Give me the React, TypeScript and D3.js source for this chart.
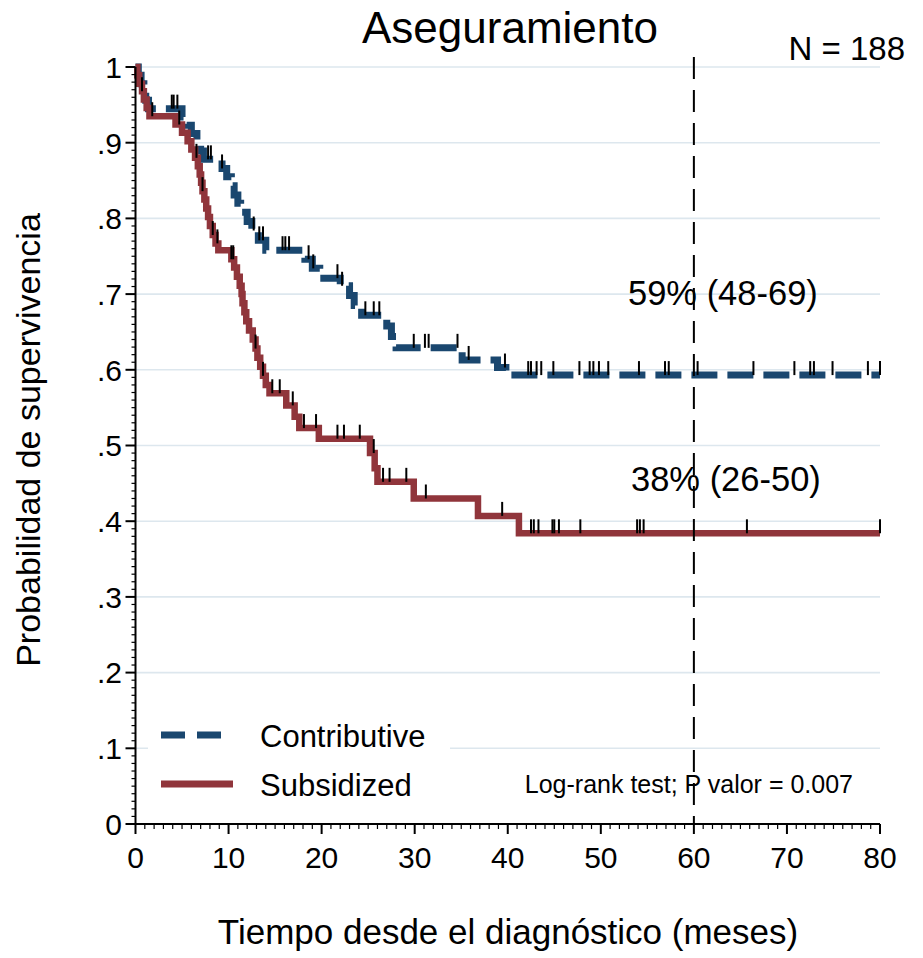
import * as d3 from 'd3'

// Kaplan-Meier steps (time in months, survival after the drop)
const contribTimes = [0, 0.3, 0.6, 0.9, 1.1, 1.4, 5.0, 5.5, 6.0, 6.6, 7.0, 7.3, 9.3, 9.8, 10.3, 10.6, 11.0, 11.3, 12.0, 12.5, 13.2, 14.0, 18.2, 19.0, 19.8, 22.0, 23.0, 23.5, 24.3, 27.0, 27.5, 28.0, 35.1, 38.9, 39.8]
const contribSurv = [1, 0.989, 0.978, 0.967, 0.956, 0.945, 0.934, 0.923, 0.912, 0.901, 0.889, 0.878, 0.866, 0.855, 0.843, 0.831, 0.82, 0.808, 0.796, 0.784, 0.771, 0.758, 0.746, 0.734, 0.721, 0.711, 0.698, 0.685, 0.672, 0.658, 0.644, 0.629, 0.613, 0.603, 0.593]
const contribCensor = [3.9, 4.1, 4.5, 7.8, 8.1, 9.3, 12.7, 13.3, 13.7, 15.8, 16.1, 16.5, 18.6, 19.1, 21.7, 22.2, 24.7, 25.6, 26.2, 29.9, 31.1, 31.5, 34.6, 35.8, 39.7, 42.2, 42.5, 43.1, 43.6, 44.9, 47.7, 48.8, 49.2, 49.8, 50.8, 54.1, 56.9, 57.3, 60.4, 66.4, 70.8, 72.5, 72.9, 74.9, 78.7, 80]

const subsTimes = [0, 0.2, 0.4, 0.7, 0.9, 1.2, 1.5, 4.3, 5.0, 5.6, 6.0, 6.4, 6.7, 6.9, 7.05, 7.2, 7.4, 7.6, 7.8, 8.0, 8.3, 8.6, 8.9, 10.3, 10.6, 10.9, 11.2, 11.4, 11.5, 11.7, 11.9, 12.2, 12.6, 12.9, 13.1, 13.4, 13.7, 14.0, 14.4, 16.2, 17.1, 17.6, 19.7, 25.2, 25.7, 26.0, 29.9, 36.8, 41.2]
const subsSurv = [1, 0.989, 0.978, 0.968, 0.957, 0.946, 0.935, 0.924, 0.913, 0.902, 0.891, 0.88, 0.869, 0.858, 0.847, 0.836, 0.825, 0.813, 0.802, 0.79, 0.778, 0.767, 0.758, 0.746, 0.735, 0.723, 0.711, 0.7, 0.688, 0.676, 0.664, 0.652, 0.64, 0.628, 0.616, 0.604, 0.592, 0.58, 0.569, 0.553, 0.538, 0.523, 0.509, 0.49, 0.47, 0.452, 0.43, 0.407, 0.384]
const subsCensor = [0.7, 1.8, 4.7, 6.55, 7.2, 8.3, 8.8, 10.3, 10.5, 12.9, 13.7, 14.7, 15.5, 16.9, 18.1, 19.4, 21.7, 22.4, 24.1, 25.6, 26.6, 27.3, 29.1, 31.2, 39.4, 42.5, 42.8, 43.3, 44.8, 45.0, 45.5, 47.8, 53.9, 54.2, 54.6, 65.7, 80]

const xTicks = [0, 10, 20, 30, 40, 50, 60, 70, 80]
const yTicks = [0, 0.1, 0.2, 0.3, 0.4, 0.5, 0.6, 0.7, 0.8, 0.9, 1]
const yTickLabels = ['0', '.1', '.2', '.3', '.4', '.5', '.6', '.7', '.8', '.9', '1']

const BLUE = '#1a476f'
const RED = '#90353b'
const GRID = '#dde7ee'
const FONT = '"Liberation Sans", Arial, Helvetica, sans-serif'

const W = 923
const H = 958

export default function App() {
  const x = d3.scaleLinear().domain([0, 80]).range([135.5, 880])
  const y = d3.scaleLinear().domain([0, 1]).range([824, 67])

  const stepLine = d3.line<[number, number]>()
    .x(d => x(d[0]))
    .y(d => y(d[1]))
    .curve(d3.curveStepAfter)

  const toPts = (ts: number[], ss: number[]): [number, number][] => {
    const pts = ts.map((t, i) => [t, ss[i]] as [number, number])
    pts.push([80, ss[ss.length - 1]])
    return pts
  }
  const survAt = (ts: number[], ss: number[], t: number) => {
    let s = ss[0]
    for (let i = 0; i < ts.length; i++) if (ts[i] <= t) s = ss[i]
    return s
  }

  const minorX = d3.range(0, 81, 1).filter(v => v % 10 !== 0)
  const minorY = d3.range(0, 101, 1).filter(v => v % 10 !== 0).map(v => v / 100)

  return (
    <svg width={W} height={H} style={{ position: 'absolute', left: 0, top: 0, background: '#fff' }} fontFamily={FONT}>
      <rect width={W} height={H} fill="#fff" />
      {/* gridlines */}
      {yTicks.filter(v => v > 0).map(v => (
        <line key={'g' + v} x1={x(0)} x2={x(80)} y1={y(v)} y2={y(v)} stroke={GRID} strokeWidth={1.6} />
      ))}

      {/* curves */}
      <path d={stepLine(toPts(contribTimes, contribSurv)) || ''} fill="none" stroke={BLUE} strokeWidth={7} strokeDasharray="26 10" />
      <path d={stepLine(toPts(subsTimes, subsSurv)) || ''} fill="none" stroke={RED} strokeWidth={6.5} />

      {/* censoring marks */}
      {contribCensor.map((t, i) => {
        const yy = y(survAt(contribTimes, contribSurv, t))
        return <line key={'cc' + i} x1={x(t)} x2={x(t)} y1={yy} y2={yy - 14} stroke="#000" strokeWidth={2} />
      })}
      {subsCensor.map((t, i) => {
        const yy = y(survAt(subsTimes, subsSurv, t))
        return <line key={'sc' + i} x1={x(t)} x2={x(t)} y1={yy} y2={yy - 14} stroke="#000" strokeWidth={2} />
      })}

      {/* 60 month reference */}
      <line x1={x(60)} x2={x(60)} y1={57} y2={y(0)} stroke="#000" strokeWidth={2} strokeDasharray="22 11" />

      {/* legend */}
      <rect x={148} y={706} width={302} height={108} fill="#fff" />
      <line x1={161} x2={221} y1={735} y2={735} stroke={BLUE} strokeWidth={7} strokeDasharray="24 12" />
      <line x1={161} x2={233} y1={784} y2={784} stroke={RED} strokeWidth={7} />
      <text x={260} y={747} fontSize={31}>Contributive</text>
      <text x={260} y={796} fontSize={31}>Subsidized</text>

      {/* axes */}
      <line x1={x(0)} x2={x(0)} y1={y(1)} y2={y(0)} stroke="#000" strokeWidth={2} />
      <line x1={x(0)} x2={x(80)} y1={y(0)} y2={y(0)} stroke="#000" strokeWidth={2} />
      {yTicks.map((v, i) => (
        <g key={'yt' + v}>
          <line x1={x(0) - 10} x2={x(0)} y1={y(v)} y2={y(v)} stroke="#000" strokeWidth={2} />
          <text x={122} y={y(v)} dy="0.36em" textAnchor="end" fontSize={30}>{yTickLabels[i]}</text>
        </g>
      ))}
      {minorY.map(v => (
        <line key={'my' + v} x1={x(0) - 4} x2={x(0)} y1={y(v)} y2={y(v)} stroke="#000" strokeWidth={1.2} />
      ))}
      {xTicks.map(v => (
        <g key={'xt' + v}>
          <line x1={x(v)} x2={x(v)} y1={y(0)} y2={y(0) + 10} stroke="#000" strokeWidth={2} />
          <text x={x(v)} y={868} textAnchor="middle" fontSize={30}>{v}</text>
        </g>
      ))}
      {minorX.map(v => (
        <line key={'mx' + v} x1={x(v)} x2={x(v)} y1={y(0)} y2={y(0) + 5} stroke="#000" strokeWidth={1.2} />
      ))}

      {/* texts */}
      <text x={510} y={43} textAnchor="middle" fontSize={44}>Aseguramiento</text>
      <text x={905} y={60} textAnchor="end" fontSize={33}>N = 188</text>
      <text x={628} y={305} fontSize={34.5}>59% (48-69)</text>
      <text x={631} y={491} fontSize={34.5}>38% (26-50)</text>
      <text x={853} y={793} textAnchor="end" fontSize={25}>Log-rank test; P valor = 0.007</text>
      <text x={508} y={944} textAnchor="middle" fontSize={35}>Tiempo desde el diagnóstico (meses)</text>
      <text transform="translate(40,440) rotate(-90)" textAnchor="middle" fontSize={34}>Probabilidad de supervivencia</text>
    </svg>
  )
}
